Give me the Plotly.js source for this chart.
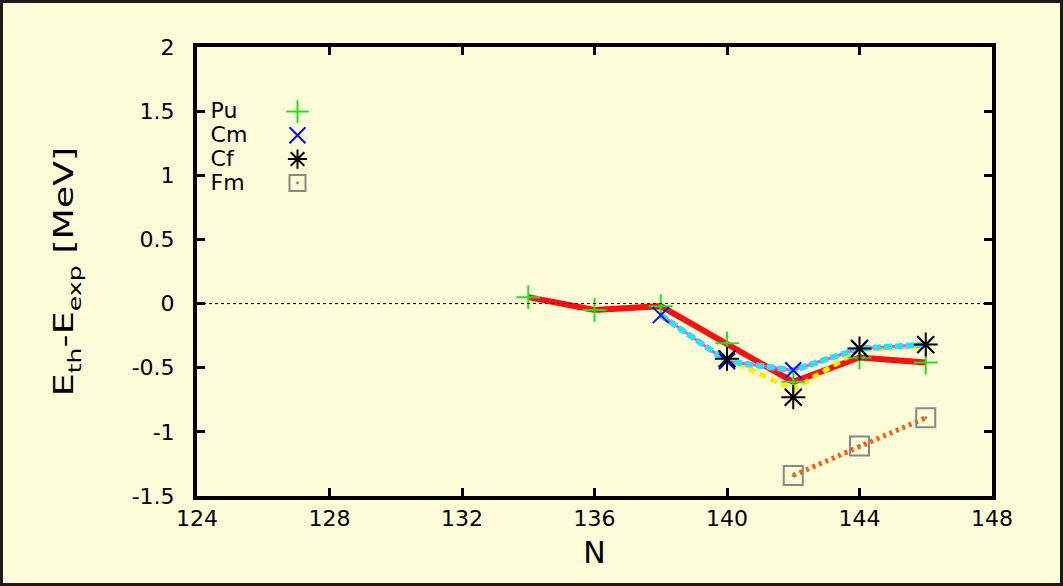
<!DOCTYPE html>
<html>
<head>
<meta charset="utf-8">
<script src="https://cdn.plot.ly/plotly-3.0.1.min.js"></script>
<style>
  html, body { margin: 0; padding: 0; background: #fdfcd9; }
  #wrap { position: relative; width: 1063px; height: 586px; }
  #chart { width: 1063px; height: 586px; }
  #frame { position: absolute; left: 0; top: 0; width: 1063px; height: 586px;
           box-sizing: border-box; border: 3px solid #1a1a1a; pointer-events: none; }
</style>
</head>
<body>
<div id="wrap"><div id="chart"></div><div id="frame"></div></div>
<script>
// Neutron numbers and deviations E_th - E_exp (MeV) per element
const puN = [134, 136, 138, 140, 142, 144, 146];
const puY = [0.05, -0.05, -0.02, -0.31, -0.61, -0.42, -0.46];

const cmN = [138, 140, 142, 144, 146];
const cmY = [-0.09, -0.45, -0.52, -0.35, -0.32];

const cfN = [140, 142, 144, 146];
const cfY = [-0.43, -0.73, -0.35, -0.32];
const cfLineY = [-0.43, -0.67, -0.36, -0.33];

const fmN = [142, 144, 146];
const fmY = [-1.34, -1.11, -0.89];

const names = ['Pu', 'Cm', 'Cf', 'Fm'];
const xTicks = [124, 128, 132, 136, 140, 144, 148];
const yTicks = [-1.5, -1, -0.5, 0, 0.5, 1, 1.5, 2];
// y-axis title pieces: [text, isSubscript]
const yTitleParts = [['E', false], ['th', true], ['-E', false], ['exp', true], [' [MeV]', false]];

const lines = [
  {x: puN, y: puY, mode: 'lines', line: {color: '#ff1010', width: 6}, showlegend: false, hoverinfo: 'skip'},
  {x: cfN, y: cfLineY, mode: 'lines', line: {color: '#ffee00', width: 5, dash: '7px,5px'}, showlegend: false, hoverinfo: 'skip'},
  {x: cmN, y: cmY, mode: 'lines', line: {color: '#ff44ff', width: 3}, showlegend: false, hoverinfo: 'skip'},
  {x: cmN, y: cmY, mode: 'lines', line: {color: '#22e6f2', width: 6, dash: '8px,3px'}, showlegend: false, hoverinfo: 'skip'},
  {x: fmN, y: fmY, mode: 'lines', line: {color: '#ff5a10', width: 5, dash: '3px,4px'}, showlegend: false, hoverinfo: 'skip'}
];

const markers = [
  {x: puN, y: puY, name: names[0], mode: 'markers',
   marker: {symbol: 'cross-thin-open', size: 17, color: '#1ee61e', line: {color: '#1ee61e', width: 2}}},
  {x: cmN, y: cmY, name: names[1], mode: 'markers',
   marker: {symbol: 'x-thin-open', size: 16, color: '#0a0aee', line: {color: '#0a0aee', width: 2}}},
  {x: cfN, y: cfY, name: names[2], mode: 'markers',
   marker: {symbol: 'asterisk-open', size: 20, color: '#000000', line: {color: '#000000', width: 2}}},
  {x: fmN, y: fmY, name: names[3], mode: 'markers',
   marker: {symbol: 'square-open-dot', size: 19, color: '#888888', line: {color: '#888888', width: 2}}}
];

const fam = 'DejaVu Sans, Liberation Sans, Arial, sans-serif';
const font = {family: fam, color: '#000'};

const layout = {
  width: 1063, height: 586,
  paper_bgcolor: '#fdfcd9', plot_bgcolor: '#fdfcd9',
  margin: {l: 197, r: 71, t: 47, b: 90},
  font: font,
  xaxis: {
    range: [124, 148], tickvals: xTicks, ticktext: xTicks.map(String),
    ticks: 'inside', ticklen: 8, tickwidth: 3, tickcolor: '#000',
    showline: true, linewidth: 4, linecolor: '#000', mirror: 'ticks',
    showgrid: false, zeroline: false,
    tickfont: {family: fam, color: '#000', size: 22},
    title: {text: 'N', font: {family: fam, color: '#000', size: 30}, standoff: 13}
  },
  yaxis: {
    range: [-1.5, 2], tickvals: yTicks, ticktext: yTicks.map(String),
    ticks: 'inside', ticklen: 8, tickwidth: 3, tickcolor: '#000',
    showline: true, linewidth: 4, linecolor: '#000', mirror: 'ticks',
    showgrid: false, zeroline: false, ticklabelstandoff: 14,
    tickfont: {family: fam, color: '#000', size: 22},
    title: {text: yTitleParts.map(p => p[1] ? '<sub>' + p[0] + '</sub>' : p[0]).join(''),
            font: {family: fam, color: '#000', size: 26}, standoff: 52}
  },
  shapes: [{type: 'line', xref: 'paper', yref: 'y', x0: 0, x1: 1, y0: 0, y1: 0,
            line: {color: '#000', width: 1, dash: 'dot'}}],
  showlegend: true,
  legend: {x: 0.017, y: 0.894, xanchor: 'left', yanchor: 'top', bgcolor: 'rgba(0,0,0,0)',
           font: {family: fam, color: '#000', size: 16}, tracegroupgap: 0}
};

Plotly.newPlot('chart', lines.concat(markers), layout, {staticPlot: true}).then(function (gd) {
  // key: label on the left, symbol to its right
  const box = gd.querySelector('.legend .scrollbox');
  if (box) box.removeAttribute('clip-path');
  gd.querySelectorAll('.legend .traces').forEach(function (g) {
    const t = g.querySelector('.legendtext');
    if (t) { t.setAttribute('x', 0); t.setAttribute('y', 7); t.style.fontSize = '22px'; }
    const s = g.querySelector('.legendsymbols');
    if (s) s.setAttribute('transform', 'translate(67,0)');
  });
  // y-axis title: rebuild the subscripts as plain shifted spans, then lengthen along the baseline
  const yt = gd.querySelector('.ytitle');
  if (yt) {
    const NS = 'http://www.w3.org/2000/svg';
    const shift = 8;
    let prevSub = false;
    while (yt.firstChild) yt.removeChild(yt.firstChild);
    yTitleParts.forEach(function (p) {
      const sp = document.createElementNS(NS, 'tspan');
      sp.textContent = p[0];
      if (p[1]) { sp.setAttribute('dy', shift); sp.style.fontSize = '18px'; }
      else if (prevSub) sp.setAttribute('dy', -shift);
      prevSub = p[1];
      yt.appendChild(sp);
    });
    const x = yt.getAttribute('x'), y = yt.getAttribute('y');
    const tr = yt.getAttribute('transform') || '';
    yt.setAttribute('transform', tr + ' translate(' + x + ',' + y + ') scale(1.4,1) translate(' + (-x) + ',' + (-y) + ')');
  }
});
</script>
</body>
</html>
